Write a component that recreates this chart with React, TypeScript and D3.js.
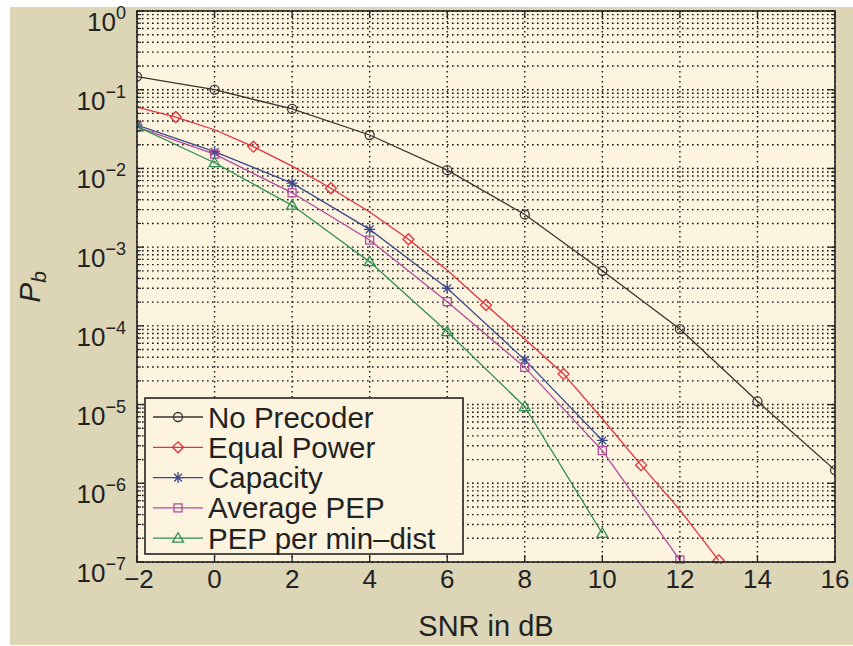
import React from "react";
import * as d3 from "d3";

// ---------- data ----------
const xTicks = [-2, 0, 2, 4, 6, 8, 10, 12, 14, 16];
const yDecades = [0, -1, -2, -3, -4, -5, -6, -7];

const noPrecoderX = [-2, 0, 2, 4, 6, 8, 10, 12, 14, 16];
const noPrecoderY = [0.147, 0.1, 0.057, 0.0266, 0.0095, 0.0026, 5.0e-4, 9.1e-5, 1.1e-5, 1.47e-6];

const equalPowerX = [-2, -1, 0, 1, 2, 3, 4, 5, 6, 7, 8, 9, 10, 11, 12, 13];
const equalPowerY = [0.06, 0.045, 0.031, 0.0189, 0.0107, 0.0056, 0.0028, 0.00126, 5.1e-4, 1.84e-4, 6.8e-5, 2.45e-5, 6.6e-6, 1.7e-6, 4.6e-7, 1.05e-7];
const equalPowerMarkX = [-1, 1, 3, 5, 7, 9, 11, 13];

const capacityX = [-2, 0, 2, 4, 6, 8, 10];
const capacityY = [0.0355, 0.0163, 0.0065, 0.00168, 3.0e-4, 3.7e-5, 3.5e-6];

const avgPepX = [-2, 0, 2, 4, 6, 8, 10, 12];
const avgPepY = [0.0336, 0.0152, 0.0049, 0.00123, 2.03e-4, 2.97e-5, 2.6e-6, 1.06e-7];

const minDistX = [-2, 0, 2, 4, 6, 8, 10];
const minDistY = [0.034, 0.0118, 0.0034, 6.5e-4, 8.4e-5, 9.4e-6, 2.3e-7];

const legendLabels = ["No Precoder", "Equal Power", "Capacity", "Average PEP", "PEP per min\u2013dist"];

// ---------- layout ----------
const W = 853, H = 646;
const L = 137, R = 835, T = 11, B = 562;
const FONT = "'Liberation Sans', Arial, Helvetica, sans-serif";

const xScale = d3.scaleLinear().domain([-2, 16]).range([L, R]);
const yScale = d3.scaleLog().domain([1e-7, 1]).range([B, T]);

type Kind = "circle" | "diamond" | "star" | "square" | "triangle";

function Marker({ x, y, kind, color }: { x: number; y: number; kind: Kind; color: string }) {
  const sw = 1.3;
  if (kind === "circle") return <circle cx={x} cy={y} r={4.5} fill="none" stroke={color} strokeWidth={sw} />;
  if (kind === "square") return <rect x={x - 4} y={y - 4} width={8} height={8} fill="none" stroke={color} strokeWidth={sw} />;
  if (kind === "diamond") {
    const s = 5.5;
    return <path d={`M${x},${y - s}L${x + s},${y}L${x},${y + s}L${x - s},${y}Z`} fill="none" stroke={color} strokeWidth={sw} />;
  }
  if (kind === "triangle") {
    const s = 5.5;
    return <path d={`M${x},${y - s}L${x + s},${y + s * 0.7}L${x - s},${y + s * 0.7}Z`} fill="none" stroke={color} strokeWidth={sw} />;
  }
  const s = 5.5, d = s * 0.7;
  return (
    <path
      d={`M${x - s},${y}L${x + s},${y}M${x},${y - s}L${x},${y + s}M${x - d},${y - d}L${x + d},${y + d}M${x - d},${y + d}L${x + d},${y - d}`}
      stroke={color}
      strokeWidth={sw}
    />
  );
}

const series = [
  { label: legendLabels[0], xs: noPrecoderX, ys: noPrecoderY, mx: noPrecoderX, color: "#3a3530", kind: "circle" as Kind },
  { label: legendLabels[1], xs: equalPowerX, ys: equalPowerY, mx: equalPowerMarkX, color: "#e4323c", kind: "diamond" as Kind },
  { label: legendLabels[2], xs: capacityX, ys: capacityY, mx: capacityX, color: "#3d4a8a", kind: "star" as Kind },
  { label: legendLabels[3], xs: avgPepX, ys: avgPepY, mx: avgPepX, color: "#b24a9c", kind: "square" as Kind },
  { label: legendLabels[4], xs: minDistX, ys: minDistY, mx: minDistX, color: "#2f8f52", kind: "triangle" as Kind },
];

export default function App() {
  const line = d3
    .line<[number, number]>()
    .x((d) => xScale(d[0]))
    .y((d) => yScale(d[1]));

  const minorVals: number[] = [];
  for (let e = -7; e < 0; e++) for (let m = 2; m <= 9; m++) minorVals.push(m * Math.pow(10, e));

  const gridColor = "#111";

  return (
    <svg width={W} height={H} style={{ position: "absolute", left: 0, top: 0 }} fontFamily={FONT}>
      <rect x={0} y={0} width={W} height={H} fill="#ffffff" />
      <rect x={10} y={7} width={W - 10} height={H - 8} fill="#dcd6b6" />
      <rect x={L} y={T} width={R - L} height={B - T} fill="#fdf4df" />
      <defs>
        <clipPath id="plotclip">
          <rect x={L} y={T - 2} width={R - L} height={B - T + 4} />
        </clipPath>
      </defs>

      {/* horizontal grid (major + minor) */}
      {[...yDecades.map((e) => Math.pow(10, e)), ...minorVals].map((v, i) => (
        <line key={"hg" + i} x1={L} x2={R} y1={yScale(v)} y2={yScale(v)} stroke={gridColor} strokeWidth={1.4} strokeDasharray="1.6,3.4" />
      ))}
      {/* vertical grid */}
      {xTicks.map((t) => (
        <line key={"vg" + t} x1={xScale(t)} x2={xScale(t)} y1={T} y2={B} stroke={gridColor} strokeWidth={1.4} strokeDasharray="1.6,3.4" />
      ))}

      {/* series */}
      <g clipPath="url(#plotclip)">
        {series.map((s) => (
          <path
            key={s.label}
            d={line(s.xs.map((x, i) => [x, s.ys[i]] as [number, number])) || ""}
            fill="none"
            stroke={s.color}
            strokeWidth={1.3}
          />
        ))}
        {series.map((s) =>
          s.mx.map((mxv) => {
            const idx = s.xs.indexOf(mxv);
            return <Marker key={s.label + mxv} x={xScale(mxv)} y={yScale(s.ys[idx])} kind={s.kind} color={s.color} />;
          })
        )}
      </g>

      {/* axes box */}
      <rect x={L} y={T} width={R - L} height={B - T} fill="none" stroke="#222" strokeWidth={1.6} />

      {/* x ticks */}
      {xTicks.map((t) => (
        <g key={"xt" + t}>
          <line x1={xScale(t)} x2={xScale(t)} y1={B} y2={B - 7} stroke="#222" strokeWidth={1.3} />
          <line x1={xScale(t)} x2={xScale(t)} y1={T} y2={T + 7} stroke="#222" strokeWidth={1.3} />
          <text x={xScale(t) + (t < 0 ? 2 : 0)} y={588} fontSize={26} textAnchor="middle" fill="#222">
            {t < 0 ? "\u2212" + Math.abs(t) : String(t)}
          </text>
        </g>
      ))}

      {/* y ticks */}
      {yDecades.map((e) => {
        const y = yScale(Math.pow(10, e));
        return (
          <g key={"yt" + e}>
            <line x1={L} x2={L + 7} y1={y} y2={y} stroke="#222" strokeWidth={1.3} />
            <line x1={R} x2={R - 7} y1={y} y2={y} stroke="#222" strokeWidth={1.3} />
            <text x={126} y={y + 20} fontSize={26} textAnchor="end" fill="#222">
              <tspan>10</tspan>
              <tspan dy={-12} fontSize={18}>{e < 0 ? "\u2212" + Math.abs(e) : String(e)}</tspan>
            </text>
          </g>
        );
      })}
      {minorVals.map((v, i) => (
        <g key={"ym" + i}>
          <line x1={L} x2={L + 4} y1={yScale(v)} y2={yScale(v)} stroke="#222" strokeWidth={1.1} />
          <line x1={R} x2={R - 4} y1={yScale(v)} y2={yScale(v)} stroke="#222" strokeWidth={1.1} />
        </g>
      ))}

      {/* axis labels */}
      <text x={(L + R) / 2} y={636} fontSize={29} textAnchor="middle" fill="#222">
        SNR in dB
      </text>
      <text transform="translate(40,287) rotate(-90)" fontSize={30} textAnchor="middle" fill="#222">
        <tspan fontStyle="italic">P</tspan>
        <tspan fontSize={21} fontStyle="italic" dy={6}>b</tspan>
      </text>

      {/* legend */}
      <rect x={145} y={398} width={318} height={156} fill="#fdf4df" stroke="#222" strokeWidth={1.6} />
      {series.map((s, i) => {
        const ry = 417 + i * 30.3;
        return (
          <g key={"lg" + i}>
            <line x1={153} x2={203} y1={ry} y2={ry} stroke={s.color} strokeWidth={1.3} />
            <Marker x={178} y={ry} kind={s.kind} color={s.color} />
            <text x={208} y={ry + 10.5} fontSize={29.5} fill="#222">
              {s.label}
            </text>
          </g>
        );
      })}
    </svg>
  );
}
